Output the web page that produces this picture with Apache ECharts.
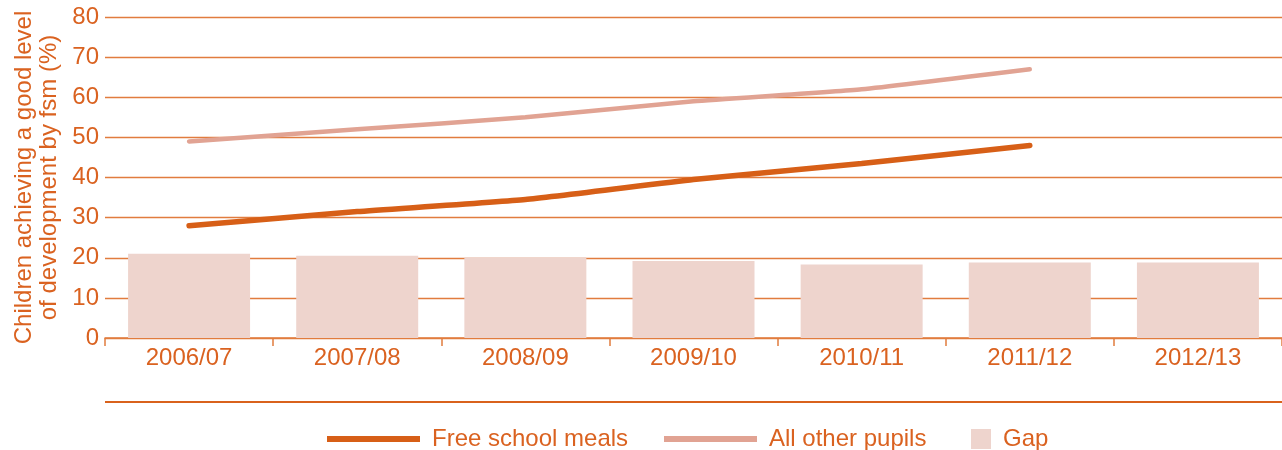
<!DOCTYPE html>
<html>
<head>
<meta charset="utf-8">
<script src="https://cdn.jsdelivr.net/npm/echarts@6/dist/echarts.min.js"></script>
<style>
  html, body { margin: 0; padding: 0; background: #fff; }
  #chart { width: 1282px; height: 450px; }
</style>
</head>
<body>
<div id="chart"></div>
<script>
const categories = ['2006/07', '2007/08', '2008/09', '2009/10', '2010/11', '2011/12', '2012/13']
const fsmValues = [28, 31.5, 34.5, 39.5, 43.5, 48, null]
const otherValues = [49, 52, 55, 59, 62, 67, null]
const gapValues = [21, 20.5, 20.1, 19.2, 18.3, 18.8, 18.8]
const yTicks = { min: 0, max: 80, interval: 10 }

const textColor = '#DA6220'
const fsmColor = '#D75F17'
const otherColor = '#E1A393'
const gapColor = '#EED4CD'
const gridColor = '#E17C3E'
const font = 'Liberation Sans, Arial, sans-serif'

const chart = echarts.init(document.getElementById('chart'))

const legendBase = {
  orient: 'horizontal',
  top: 427,
  padding: 0,
  itemGap: 0,
  icon: 'rect',
  textStyle: { color: textColor, fontSize: 24, fontFamily: font, padding: [0, 0, 0, 7] },
}

const options = {
  animation: false,
  grid: { left: 105, right: 0, top: 17, bottom: 112 },
  xAxis: {
    type: 'category',
    data: categories,
    axisLine: { lineStyle: { color: gridColor, width: 1.5 } },
    axisTick: { show: true, length: 8, lineStyle: { color: gridColor, width: 1.5 } },
    axisLabel: { color: textColor, fontSize: 24, fontFamily: font, margin: 8 },
  },
  yAxis: {
    type: 'value',
    min: yTicks.min,
    max: yTicks.max,
    interval: yTicks.interval,
    name: 'Children achieving a good level\nof development by fsm (%)',
    nameLocation: 'middle',
    nameRotate: 90,
    nameGap: 43,
    nameTextStyle: { color: textColor, fontSize: 24, fontFamily: font, lineHeight: 25 },
    axisLine: { show: false },
    axisTick: { show: false },
    axisLabel: { color: textColor, fontSize: 24, fontFamily: font, margin: 6 },
    splitLine: { lineStyle: { color: gridColor, width: 1.3 } },
  },
  legend: [
    Object.assign({}, legendBase, { left: 327, data: ['Free school meals'], itemWidth: 93, itemHeight: 6 }),
    Object.assign({}, legendBase, { left: 664, data: ['All other pupils'], itemWidth: 93, itemHeight: 6 }),
    Object.assign({}, legendBase, { left: 971, data: ['Gap'], itemWidth: 20, itemHeight: 20 }),
  ],
  graphic: [
    {
      type: 'rect',
      left: 105,
      top: 401,
      shape: { width: 1177, height: 2 },
      style: { fill: '#D9621C' },
      silent: true,
    },
  ],
  series: [
    {
      name: 'Gap',
      type: 'bar',
      data: gapValues,
      barWidth: 122,
      itemStyle: { color: gapColor },
      z: 1,
    },
    {
      name: 'All other pupils',
      type: 'line',
      data: otherValues,
      showSymbol: false,
      symbol: 'none',
      smooth: 0.15,
      lineStyle: { color: otherColor, width: 4.5, cap: 'round' },
      itemStyle: { color: otherColor },
      z: 3,
    },
    {
      name: 'Free school meals',
      type: 'line',
      data: fsmValues,
      showSymbol: false,
      symbol: 'none',
      smooth: 0.15,
      lineStyle: { color: fsmColor, width: 5.5, cap: 'round' },
      itemStyle: { color: fsmColor },
      z: 4,
    },
  ],
}

chart.setOption(options)
</script>
</body>
</html>
